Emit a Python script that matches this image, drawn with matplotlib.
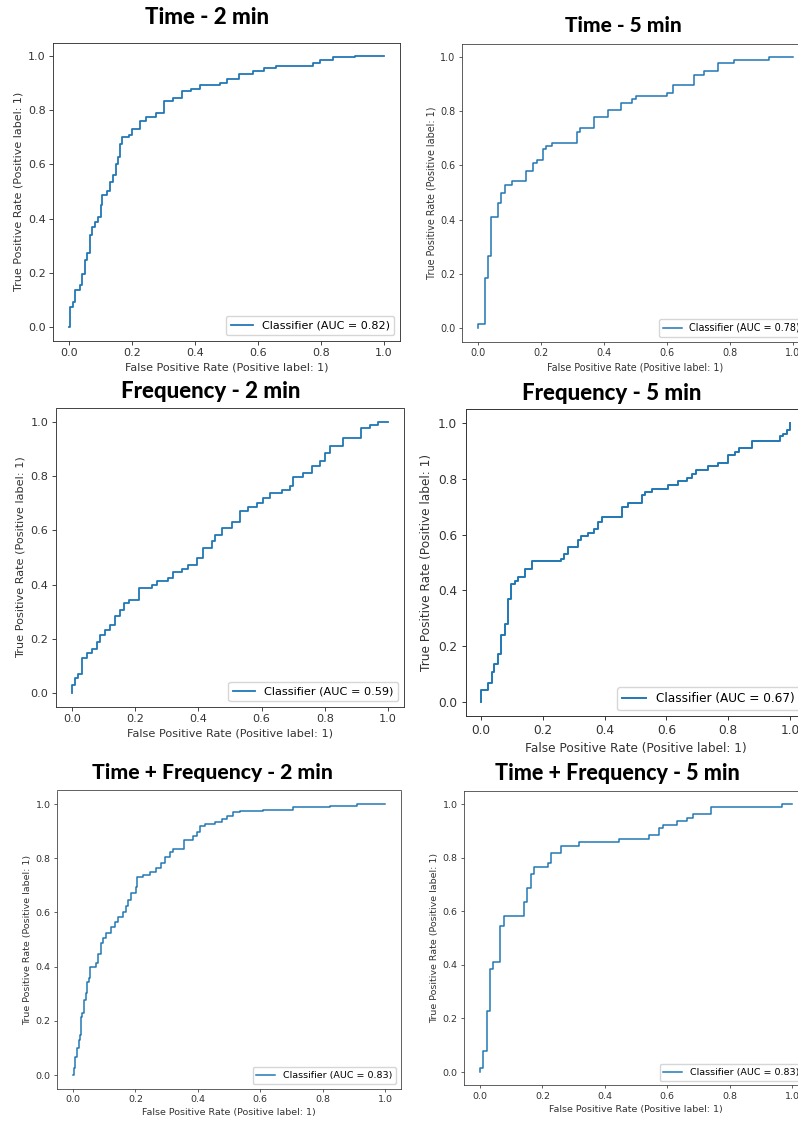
import matplotlib

matplotlib.use("Agg")
import matplotlib.pyplot as plt

W, H = 798, 1124

titulos = [
    "Time - 2 min",
    "Time - 5 min",
    "Frequency - 2 min",
    "Frequency - 5 min",
    "Time + Frequency - 2 min",
    "Time + Frequency - 5 min",
]
auc = [0.82, 0.78, 0.59, 0.67, 0.83, 0.83]

# puntos ROC: FPR donde sube la curva y TPR despues del salto
fpr_time_2 = [0, 0.004, 0.013, 0.018, 0.034, 0.042, 0.05, 0.057, 0.066, 0.074,
              0.081, 0.092, 0.1, 0.106, 0.119, 0.129, 0.14, 0.148, 0.156, 0.163,
              0.169, 0.19, 0.2, 0.225, 0.245, 0.277, 0.3, 0.33, 0.357, 0.388,
              0.415, 0.478, 0.5, 0.54, 0.584, 0.62, 0.658, 0.775, 0.796, 0.838,
              0.907, 1.0]
tpr_time_2 = [0, 0.074, 0.092, 0.135, 0.154, 0.197, 0.246, 0.275, 0.339, 0.369,
              0.388, 0.406, 0.45, 0.486, 0.502, 0.536, 0.56, 0.6, 0.628, 0.677,
              0.70, 0.71, 0.73, 0.76, 0.775, 0.79, 0.835, 0.845, 0.87, 0.88,
              0.895, 0.90, 0.915, 0.935, 0.945, 0.955, 0.965, 0.975, 0.985, 0.995,
              1.0, 1.0]

fpr_time_5 = [0, 0, 0.021, 0.032, 0.042, 0.064, 0.074, 0.087, 0.109, 0.151,
              0.173, 0.186, 0.205, 0.217, 0.236, 0.314, 0.324, 0.369, 0.413, 0.455,
              0.488, 0.5, 0.6, 0.62, 0.684, 0.717, 0.761, 0.814, 0.924, 1.0]
tpr_time_5 = [0, 0.016, 0.185, 0.265, 0.41, 0.462, 0.50, 0.528, 0.543, 0.58,
              0.608, 0.62, 0.661, 0.673, 0.684, 0.725, 0.74, 0.778, 0.805, 0.832,
              0.845, 0.857, 0.869, 0.898, 0.935, 0.949, 0.978, 0.988, 1.0, 1.0]

fpr_freq_2 = [0, 0, 0.011, 0.018, 0.032, 0.047, 0.063, 0.079, 0.089, 0.105,
              0.121, 0.135, 0.153, 0.163, 0.179, 0.211, 0.253, 0.268, 0.305, 0.321,
              0.347, 0.368, 0.395, 0.414, 0.442, 0.453, 0.474, 0.505, 0.532, 0.558,
              0.584, 0.605, 0.626, 0.663, 0.689, 0.7, 0.732, 0.758, 0.784, 0.8,
              0.816, 0.858, 0.913, 0.942, 0.968, 1.0]
tpr_freq_2 = [0, 0.03, 0.055, 0.071, 0.129, 0.148, 0.162, 0.19, 0.215, 0.234,
              0.252, 0.283, 0.307, 0.332, 0.344, 0.387, 0.40, 0.412, 0.424, 0.445,
              0.457, 0.473, 0.498, 0.535, 0.56, 0.584, 0.609, 0.633, 0.67, 0.688,
              0.70, 0.72, 0.738, 0.75, 0.763, 0.797, 0.812, 0.836, 0.855, 0.886,
              0.91, 0.941, 0.978, 0.99, 1.0, 1.0]

fpr_freq_5 = [0, 0, 0.022, 0.035, 0.043, 0.054, 0.065, 0.078, 0.088, 0.097,
              0.11, 0.121, 0.142, 0.164, 0.259, 0.27, 0.283, 0.313, 0.324, 0.345,
              0.367, 0.38, 0.391, 0.455, 0.477, 0.52, 0.531, 0.552, 0.606, 0.638,
              0.666, 0.682, 0.696, 0.736, 0.768, 0.8, 0.822, 0.836, 0.876, 0.968,
              0.978, 0.989, 1.0]
tpr_freq_5 = [0, 0.042, 0.069, 0.108, 0.135, 0.173, 0.239, 0.278, 0.37, 0.422,
              0.434, 0.45, 0.478, 0.504, 0.514, 0.532, 0.556, 0.58, 0.595, 0.607,
              0.621, 0.645, 0.663, 0.699, 0.713, 0.741, 0.753, 0.765, 0.777, 0.791,
              0.804, 0.818, 0.833, 0.845, 0.857, 0.884, 0.896, 0.91, 0.935, 0.952,
              0.962, 0.976, 1.0]

fpr_tf_2 = [0, 0.002, 0.007, 0.013, 0.018, 0.021, 0.025, 0.03, 0.034, 0.041,
            0.045, 0.051, 0.053, 0.075, 0.08, 0.091, 0.096, 0.107, 0.123, 0.134,
            0.144, 0.16, 0.169, 0.176, 0.187, 0.201, 0.205, 0.225, 0.246, 0.265,
            0.283, 0.294, 0.31, 0.321, 0.355, 0.385, 0.396, 0.406, 0.422, 0.455,
            0.476, 0.492, 0.513, 0.535, 0.61, 0.706, 0.824, 0.909, 1.0]
tpr_tf_2 = [0, 0.025, 0.068, 0.098, 0.129, 0.148, 0.215, 0.228, 0.277, 0.301,
            0.344, 0.357, 0.40, 0.412, 0.447, 0.486, 0.504, 0.523, 0.547, 0.566,
            0.584, 0.603, 0.624, 0.646, 0.67, 0.695, 0.732, 0.74, 0.75, 0.763,
            0.784, 0.803, 0.824, 0.833, 0.867, 0.882, 0.898, 0.919, 0.926, 0.935,
            0.945, 0.956, 0.969, 0.974, 0.978, 0.988, 0.994, 1.0, 1.0]

fpr_tf_5 = [0, 0, 0.009, 0.021, 0.032, 0.043, 0.064, 0.077, 0.141, 0.152,
            0.163, 0.173, 0.217, 0.227, 0.26, 0.316, 0.444, 0.543, 0.575, 0.588,
            0.631, 0.663, 0.684, 0.74, 0.968, 1.0]
tpr_tf_5 = [0, 0.015, 0.08, 0.226, 0.384, 0.411, 0.543, 0.583, 0.634, 0.686,
            0.738, 0.766, 0.779, 0.819, 0.845, 0.857, 0.87, 0.884, 0.912, 0.922,
            0.937, 0.949, 0.961, 0.988, 1.0, 1.0]

curvas = [
    (fpr_time_2, tpr_time_2),
    (fpr_time_5, tpr_time_5),
    (fpr_freq_2, tpr_freq_2),
    (fpr_freq_5, tpr_freq_5),
    (fpr_tf_2, tpr_tf_2),
    (fpr_tf_5, tpr_tf_5),
]

# collage: cada panel tiene su propia caja (px: izq, arriba, ancho, alto) y escala
cajas = [
    (53.3, 42.5, 346.5, 298.1),
    (462.3, 43.5, 346.5, 298.1),
    (56.2, 408.5, 347.6, 298.1),
    (465.6, 409.1, 339.9, 306.9),
    (57.4, 790.5, 343.2, 298.1),
    (464.4, 790.6, 343.2, 294.8),
]
escalas = [0.80, 0.69, 0.81, 0.87, 0.68, 0.68]
pos_titulos = [(207, 17), (623, 26), (211, 391), (612, 393), (212, 773), (617, 774)]
tam_titulos = [16, 15, 16, 16, 15.2, 15.5]

fig = plt.figure(figsize=(W / 100, H / 100), dpi=100)

for i in range(6):
    izq, arriba, ancho, alto = cajas[i]
    s = escalas[i]
    ax = fig.add_axes([izq / W, 1 - (arriba + alto) / H, ancho / W, alto / H])
    fpr, tpr = curvas[i]
    ax.step(fpr, tpr, where="post", color="#1f77b4", linewidth=1.6 * s,
            label=f"Classifier (AUC = {auc[i]:.2f})")
    ax.set_xticks([0, 0.2, 0.4, 0.6, 0.8, 1.0])
    ax.set_yticks([0, 0.2, 0.4, 0.6, 0.8, 1.0])
    ax.tick_params(labelsize=10 * s, length=3.5 * s, width=0.8 * s, pad=3.5 * s,
                   colors="#333333")
    for sp in ax.spines.values():
        sp.set_linewidth(0.8 * s)
        sp.set_color("#333333")
    ax.set_xlabel("False Positive Rate (Positive label: 1)", fontsize=10 * s,
                  labelpad=4 * s, color="#333333")
    ax.set_ylabel("True Positive Rate (Positive label: 1)", fontsize=10 * s,
                  labelpad=4 * s, color="#333333")
    ax.legend(loc="lower right", fontsize=10 * s)
    cx, cy = pos_titulos[i]
    fig.text(cx / W, 1 - cy / H, titulos[i], ha="center", va="center",
             fontsize=tam_titulos[i], fontweight=900, color="black",
             family=["Lato", "DejaVu Sans"])

plt.savefig("out.png", dpi=100)
plt.close()
